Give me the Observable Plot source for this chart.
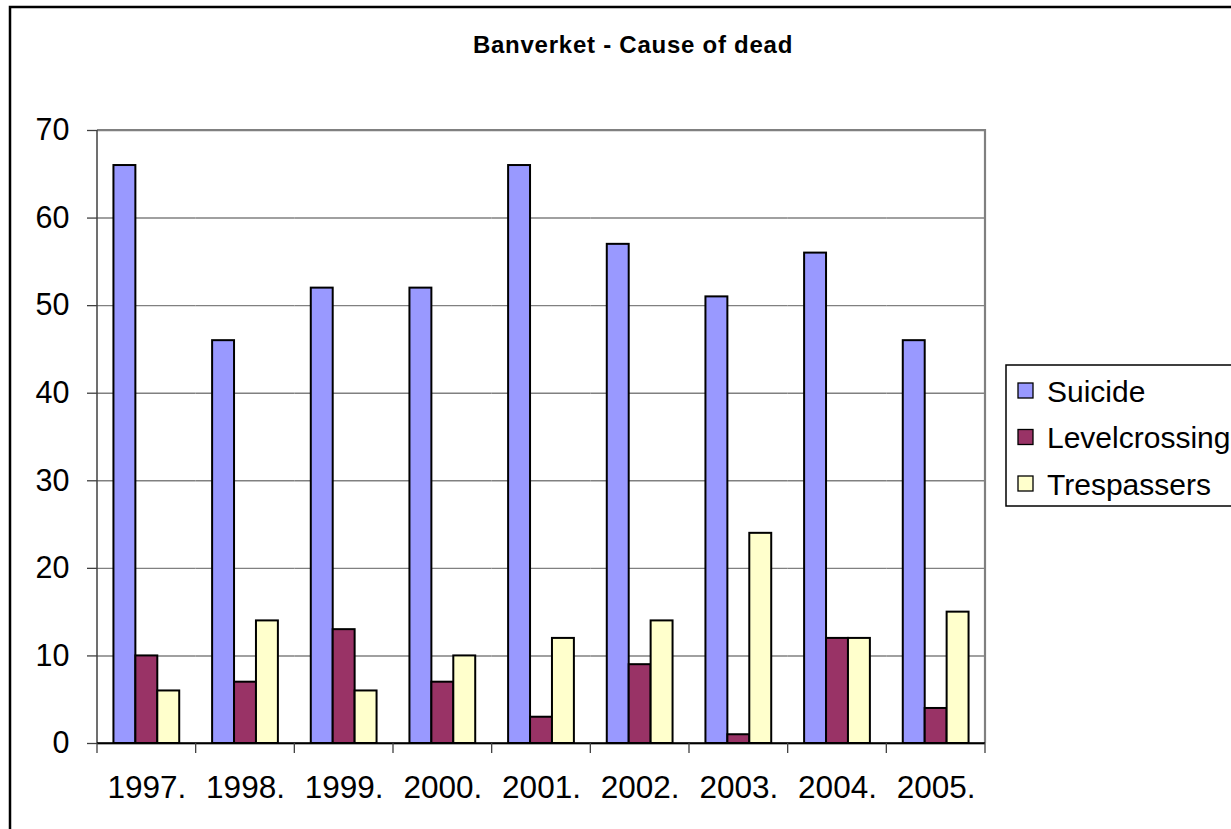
<!DOCTYPE html>
<html>
<head>
<meta charset="utf-8">
<script src="https://cdn.jsdelivr.net/npm/d3@7"></script>
<script src="https://cdn.jsdelivr.net/npm/@observablehq/plot@0.6"></script>
<style>
  html, body { margin: 0; padding: 0; background: white; }
  #chart svg { display: block; }
</style>
</head>
<body>
<div id="chart"></div>
<script>
const categories = ["1997.", "1998.", "1999.", "2000.", "2001.", "2002.", "2003.", "2004.", "2005."];
const series = ["Suicide", "Levelcrossing", "Trespassers"];
const suicide = [66, 46, 52, 52, 66, 57, 51, 56, 46];
const levelcrossing = [10, 7, 13, 7, 3, 9, 1, 12, 4];
const trespassers = [6, 14, 6, 10, 12, 14, 24, 12, 15];
const colors = ["#9999FF", "#993366", "#FFFFCC"];
const yTicks = [0, 10, 20, 30, 40, 50, 60, 70];
const title = "Banverket - Cause of dead";

const valuesBySeries = [suicide, levelcrossing, trespassers];
const data = categories.flatMap((c, i) =>
  series.map((s, j) => ({ year: c, series: s, value: valuesBySeries[j][i] }))
);

const font = "'Liberation Sans', Arial, sans-serif";

const chart = Plot.plot({
  width: 1231,
  height: 829,
  marginLeft: 97,
  marginRight: 246,
  marginTop: 130,
  marginBottom: 86,
  style: { fontFamily: font, fontSize: "30px", color: "black", background: "white", overflow: "visible" },
  fx: { domain: categories, paddingInner: 0, paddingOuter: 0, round: false, label: null },
  x: { domain: series, paddingInner: 0, paddingOuter: 0.75, round: false, axis: null },
  y: { domain: [0, 70], label: null },
  color: { domain: series, range: colors },
  marks: [
    Plot.gridY(yTicks, { stroke: "#808080", strokeOpacity: 1, strokeWidth: 1.4 }),
    Plot.axisY(yTicks, { tickSize: 10, tickPadding: 18, label: null, stroke: "#404040", strokeWidth: 1.3, fontSize: 30.5 }),
    Plot.axisFx({ anchor: "bottom", tickSize: 0, tickPadding: 32, label: null, fontSize: 31.5 }),
    Plot.barY(data, { fx: "year", x: "series", y: "value", fill: "series", stroke: "black", strokeWidth: 2 }),
    Plot.ruleY([0], { stroke: "black", strokeWidth: 1.6 })
  ]
});

document.getElementById("chart").appendChild(chart);

// Decorations drawn through the chart's own scales
const svg = d3.select(chart);
const fx = chart.scale("fx");
const y = chart.scale("y");
const color = chart.scale("color");
const [xl, xr] = fx.range;
const yb = y.apply(0), yt = y.apply(70);

const deco = svg.append("g");
// top & right plot border (gray)
deco.append("path")
  .attr("d", `M${xl},${yt}H${xr}V${yb}`)
  .attr("fill", "none").attr("stroke", "#808080").attr("stroke-width", 2.2);
// left axis line
deco.append("line")
  .attr("x1", xl).attr("x2", xl).attr("y1", yt).attr("y2", yb)
  .attr("stroke", "#404040").attr("stroke-width", 1.5);
// bottom axis line
deco.append("line")
  .attr("x1", xl).attr("x2", xr).attr("y1", yb).attr("y2", yb)
  .attr("stroke", "black").attr("stroke-width", 1.6);
// category boundary ticks
const tickXs = categories.map(c => fx.apply(c)).concat([xr]);
deco.selectAll(".xt").data(tickXs).join("line")
  .attr("x1", d => d).attr("x2", d => d).attr("y1", yb).attr("y2", yb + 10)
  .attr("stroke", "#404040").attr("stroke-width", 1.3);

// Outer chart border
svg.append("rect")
  .attr("x", 10).attr("y", 7).attr("width", 1400).attr("height", 1000)
  .attr("fill", "none").attr("stroke", "black").attr("stroke-width", 2.5);

// Title
svg.append("text")
  .attr("x", 633).attr("y", 53)
  .attr("text-anchor", "middle")
  .attr("font-family", font).attr("font-size", 24).attr("font-weight", "bold")
  .attr("letter-spacing", "0.75px")
  .attr("fill", "black")
  .text(title);

// Legend
const lg = svg.append("g").attr("text-anchor", "start");
lg.append("rect")
  .attr("x", 1006).attr("y", 365).attr("width", 400).attr("height", 141)
  .attr("fill", "white").attr("stroke", "black").attr("stroke-width", 1.5);
series.forEach((s, i) => {
  const cy = 390.5 + i * 46.5;
  lg.append("rect")
    .attr("x", 1018).attr("y", cy - 7.5).attr("width", 15).attr("height", 15)
    .attr("fill", color.apply(s)).attr("stroke", "black").attr("stroke-width", 1.3);
  lg.append("text")
    .attr("x", 1047).attr("y", cy + 11)
    .attr("text-anchor", "start")
    .attr("font-family", font).attr("font-size", 30).attr("fill", "black")
    .text(s);
});
</script>
</body>
</html>
